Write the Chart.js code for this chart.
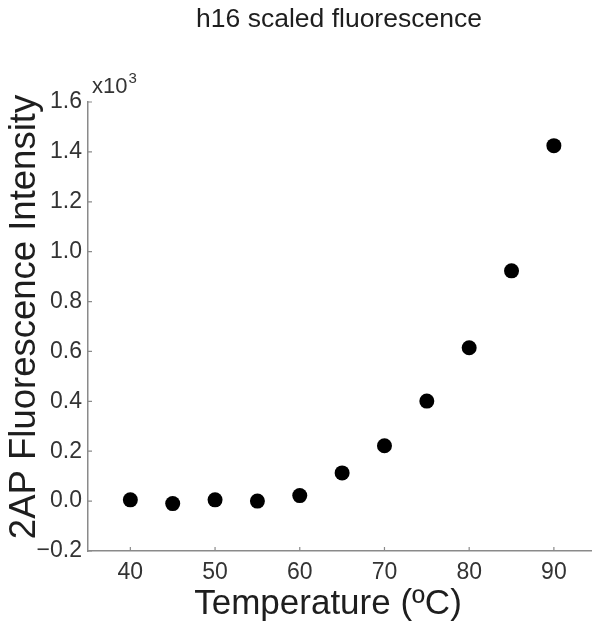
<!DOCTYPE html>
<html>
<head>
<meta charset="utf-8">
<style>
  html, body { margin: 0; padding: 0; background: #ffffff; }
  #wrap { width: 592px; height: 629px; position: relative; }
</style>
<script src="https://cdn.jsdelivr.net/npm/chart.js@4.4.1/dist/chart.umd.min.js"></script>
</head>
<body>
<div id="wrap"><canvas id="c" width="592" height="629"></canvas></div>
<script>
// ---- data ----
const chartTitle = "h16 scaled fluorescence";
const xAxisTitle = "Temperature (ºC)";
const yAxisTitle = "2AP Fluorescence Intensity";
const temperatures = [40, 45, 50, 55, 60, 65, 70, 75, 80, 85, 90];
const intensityE3 = [0.005, -0.01, 0.005, 0.0, 0.022, 0.113, 0.222, 0.401, 0.615, 0.923, 1.425];
const xTickValues = [40, 50, 60, 70, 80, 90];
const yTickValues = [-0.2, 0.0, 0.2, 0.4, 0.6, 0.8, 1.0, 1.2, 1.4, 1.6];

const FONT = "'Liberation Sans', Arial, Helvetica, sans-serif";
const AXIS_COLOR = '#8a8a8a';
const TEXT_COLOR = '#333333';
const TITLE_COLOR = '#1e1e1e';

const points = temperatures.map((t, i) => ({ x: t, y: intensityE3[i] }));

const whiteBg = {
  id: 'whiteBg',
  beforeDraw(chart) {
    const { ctx, width, height } = chart;
    ctx.save();
    ctx.fillStyle = '#ffffff';
    ctx.fillRect(0, 0, width, height);
    ctx.restore();
  }
};

const extras = {
  id: 'extras',
  afterDraw(chart) {
    const { ctx, chartArea } = chart;
    const xs = chart.scales.x, ys = chart.scales.y;
    ctx.save();
    // inward tick marks
    ctx.strokeStyle = AXIS_COLOR;
    ctx.lineWidth = 1.2;
    ctx.beginPath();
    xs.ticks.forEach(t => {
      const px = xs.getPixelForValue(t.value);
      ctx.moveTo(px, chartArea.bottom);
      ctx.lineTo(px, chartArea.bottom - 4);
    });
    ys.ticks.forEach(t => {
      const py = ys.getPixelForValue(t.value);
      ctx.moveTo(chartArea.left, py);
      ctx.lineTo(chartArea.left + 4, py);
    });
    ctx.stroke();
    // chart title
    ctx.fillStyle = TITLE_COLOR;
    ctx.font = "26.5px " + FONT;
    ctx.textAlign = 'center';
    ctx.textBaseline = 'middle';
    ctx.fillText(chartTitle, (chartArea.left + chartArea.right) / 2 - 1, 20);
    // x axis title
    ctx.textBaseline = 'alphabetic';
    ctx.font = "35px " + FONT;
    ctx.fillText(xAxisTitle, chartArea.left + 240, 614);
    // y axis title (rotated)
    ctx.save();
    ctx.translate(35, chartArea.top + 215);
    ctx.rotate(-Math.PI / 2);
    ctx.font = "36.5px " + FONT;
    ctx.fillText(yAxisTitle, 0, 0);
    ctx.restore();
    // exponent label
    ctx.textAlign = 'left';
    ctx.fillStyle = TEXT_COLOR;
    ctx.font = "22px " + FONT;
    const bx = chartArea.left + 4, by = chartArea.top - 9;
    ctx.fillText('x10', bx, by);
    const w = ctx.measureText('x10').width;
    ctx.font = "15px " + FONT;
    ctx.fillText('3', bx + w + 1, by - 10);
    ctx.restore();
  }
};

new Chart(document.getElementById('c'), {
  type: 'scatter',
  data: {
    datasets: [{
      data: points,
      backgroundColor: '#000000',
      borderColor: '#000000',
      pointRadius: 7.5,
      pointHoverRadius: 7.5,
      borderWidth: 0
    }]
  },
  options: {
    responsive: false,
    animation: false,
    events: [],
    layout: { autoPadding: false, padding: { top: 102, right: 0, bottom: 0, left: 0 } },
    plugins: {
      legend: { display: false },
      title: { display: false },
      tooltip: { enabled: false }
    },
    scales: {
      x: {
        type: 'linear',
        min: 35,
        max: 94.5,
        afterBuildTicks: (s) => { s.ticks = xTickValues.map(v => ({ value: v })); },
        afterFit: (s) => { s.height = 78; },
        grid: { display: false, drawTicks: false },
        border: { display: true, color: AXIS_COLOR, width: 1.5 },
        ticks: {
          padding: 8,
          color: TEXT_COLOR,
          font: { family: FONT, size: 23 },
          autoSkip: false,
          maxRotation: 0,
          callback: (v) => String(v)
        },
        title: { display: false }
      },
      y: {
        type: 'linear',
        min: -0.2,
        max: 1.6,
        afterBuildTicks: (s) => { s.ticks = yTickValues.map(v => ({ value: v })); },
        afterFit: (s) => { s.width = 88; },
        grid: { display: false, drawTicks: false },
        border: { display: true, color: AXIS_COLOR, width: 1.5 },
        ticks: {
          padding: 6,
          color: TEXT_COLOR,
          font: { family: FONT, size: 23 },
          autoSkip: false,
          callback: (v) => {
            const s = Math.abs(v).toFixed(1);
            return v < -1e-9 ? '\u2212' + s : s;
          }
        },
        title: { display: false }
      }
    }
  },
  plugins: [whiteBg, extras]
});
</script>
</body>
</html>
